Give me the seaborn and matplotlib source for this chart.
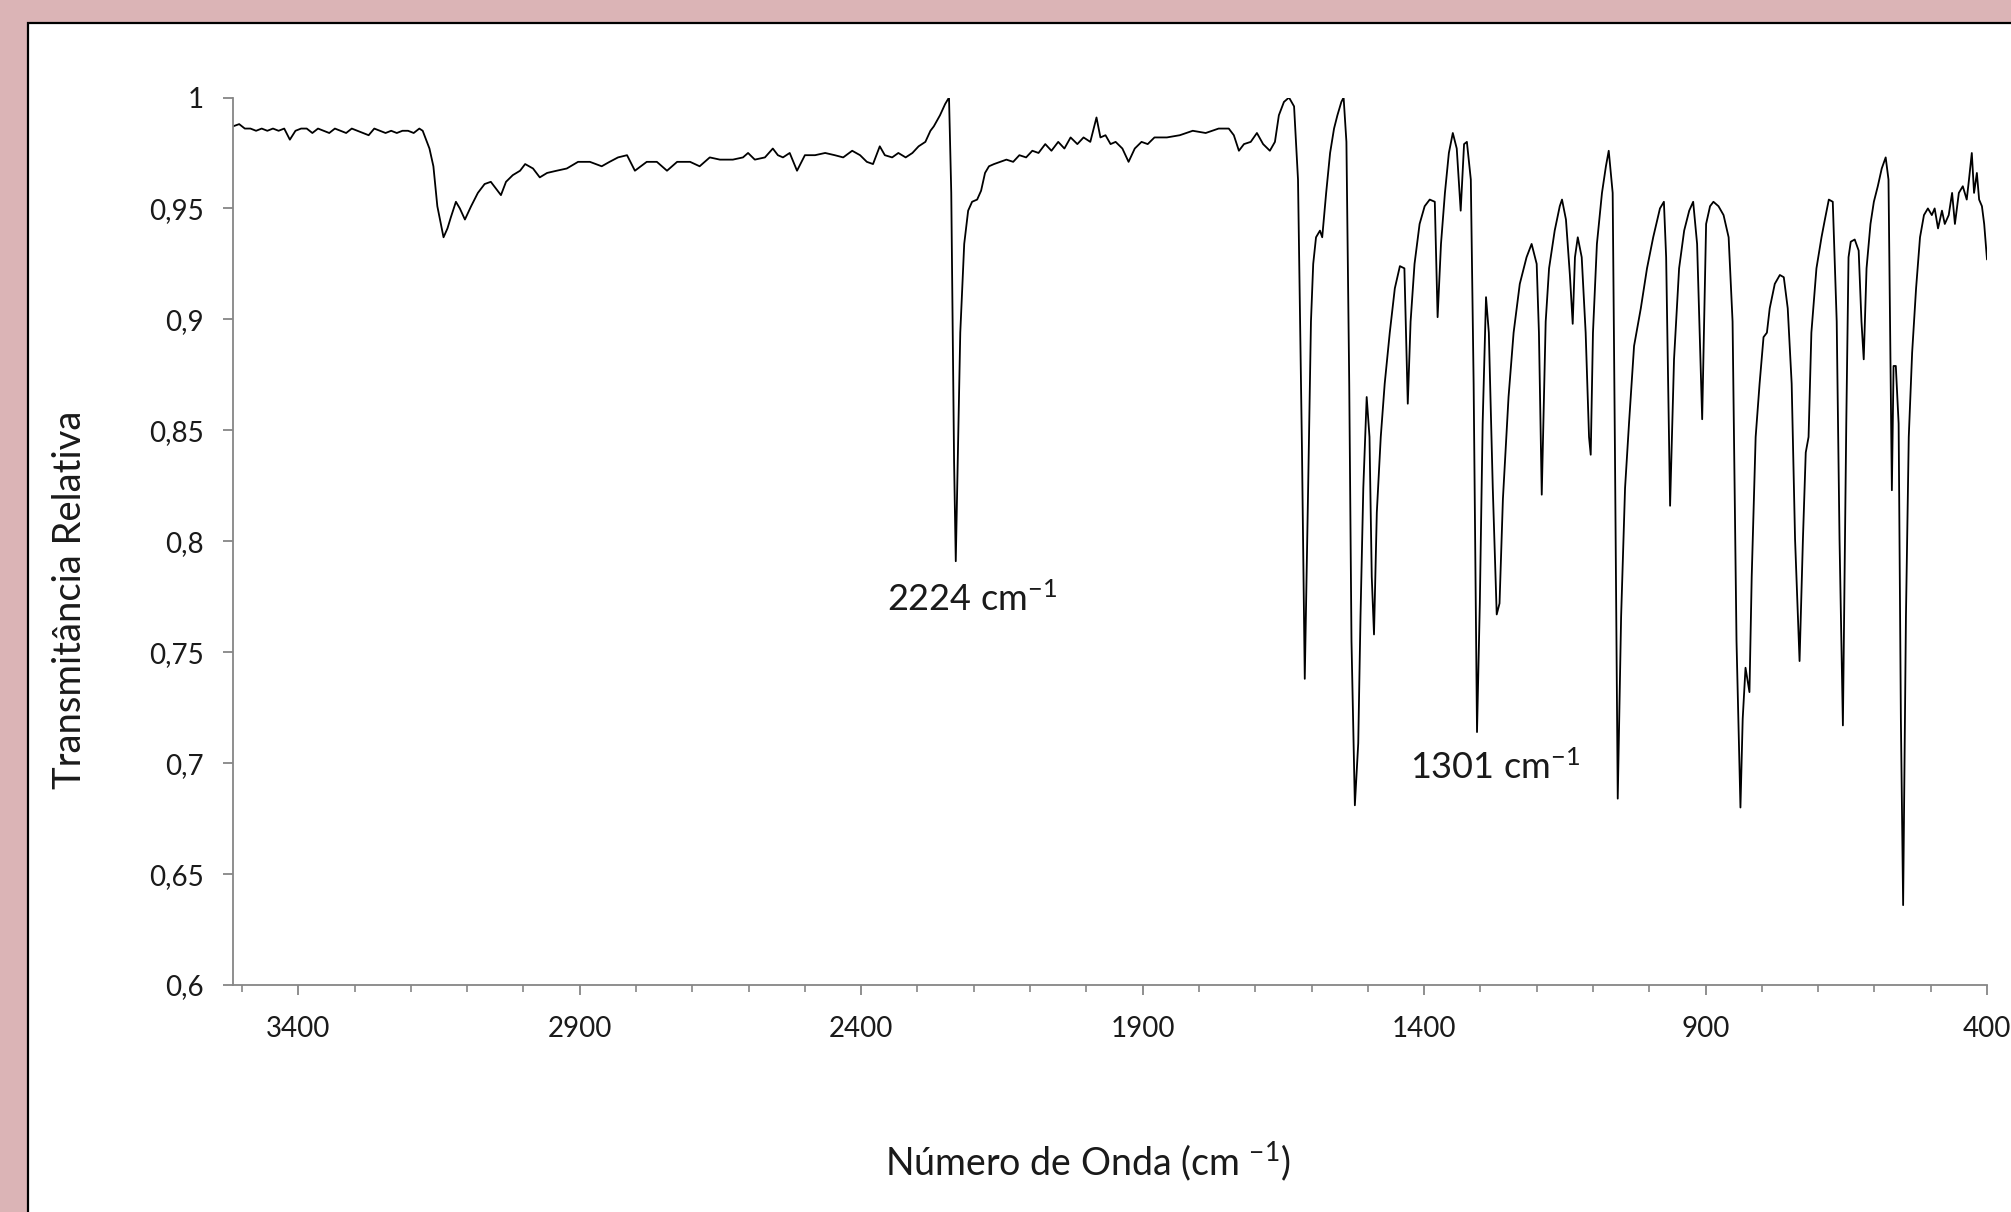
import numpy as np
import pandas as pd
import seaborn as sns
import matplotlib
matplotlib.use("Agg")
import matplotlib.pyplot as plt
from matplotlib.patches import Rectangle
from matplotlib.ticker import FixedLocator, MultipleLocator

# ---------------- data ----------------
wavenumber = [
    3516, 3505, 3495, 3485, 3475, 3465, 3455, 3445, 3435, 3425, 3415, 3405, 3395, 3385, 3375,
    3365, 3355, 3345, 3335, 3325, 3315, 3305, 3295, 3285, 3275, 3265, 3255, 3245, 3235, 3225,
    3215, 3205, 3195, 3185, 3179, 3167, 3160, 3153, 3142, 3135, 3129, 3120, 3113, 3104, 3093,
    3081, 3069, 3058, 3049, 3040, 3031, 3019,
    3006, 2997, 2983, 2971, 2958, 2941, 2923, 2903, 2882, 2861, 2847, 2832, 2816, 2802, 2781,
    2763, 2745, 2727, 2704, 2687, 2669, 2651, 2628, 2610, 2601, 2589, 2571, 2557, 2548, 2539,
    2527, 2514, 2500, 2482, 2464, 2447, 2432, 2416, 2402, 2390, 2379, 2367, 2358, 2345, 2334,
    2321, 2309, 2298, 2286, 2277,
    2271, 2260, 2251, 2244, 2240, 2235, 2232, 2229, 2224, 2221, 2217, 2210, 2203, 2194,
    2187, 2180, 2173, 2164, 2153, 2142, 2130, 2119, 2107, 2096, 2085, 2073, 2062, 2050, 2039,
    2028, 2016, 2005, 1993, 1982, 1975, 1966, 1957, 1948, 1936, 1925, 1914, 1902, 1891, 1879,
    1857, 1834, 1811, 1788, 1765, 1747, 1738, 1729, 1720, 1708, 1697, 1686, 1674, 1665, 1658,
    1649, 1640, 1631, 1624, 1617, 1612, 1606, 1601, 1597, 1592, 1585, 1581, 1574, 1567, 1560,
    1554, 1547, 1543, 1538, 1533, 1529, 1523, 1517, 1513, 1508, 1502, 1497, 1493, 1489, 1484,
    1477, 1470, 1461, 1452, 1443, 1435, 1429, 1424, 1417, 1408, 1399, 1390, 1381, 1376, 1370,
    1363, 1356, 1349, 1342, 1335, 1329, 1324, 1317, 1312, 1306, 1301, 1296, 1290, 1285, 1278,
    1271, 1266, 1260, 1250, 1241, 1230, 1218, 1209, 1200, 1196, 1191, 1184, 1178, 1168, 1159,
    1155, 1148, 1141, 1136, 1132, 1127, 1120, 1113, 1107, 1104, 1100, 1093, 1084, 1077, 1072,
    1065, 1061, 1056, 1050, 1043, 1036, 1027, 1015, 1004, 993, 981, 974, 970, 963, 956,
    947, 938, 929, 922, 915, 906, 899, 892, 886, 877, 868, 859, 852, 845, 838,
    834, 829, 822, 818, 811, 804, 797, 791, 786, 777, 768, 761, 754, 747, 741,
    733, 727, 722, 717, 712, 703, 694, 688, 681, 674, 667, 662, 656, 650, 646,
    642, 635, 628, 623, 619, 614, 607, 601, 594, 587, 580, 575, 571, 569, 566,
    562, 557, 553, 549, 544, 539, 533, 526, 519, 512, 505, 498, 493, 487, 480,
    475, 468, 462, 457, 450, 443, 436, 432, 427, 423, 418, 414, 409, 405, 400,
]
transmittance = [
    0.987, 0.988, 0.986, 0.986, 0.985, 0.986, 0.985, 0.986, 0.985, 0.986, 0.981, 0.985, 0.986, 0.986, 0.984,
    0.986, 0.985, 0.984, 0.986, 0.985, 0.984, 0.986, 0.985, 0.984, 0.983, 0.986, 0.985, 0.984, 0.985, 0.984,
    0.985, 0.985, 0.984, 0.986, 0.985, 0.977, 0.969, 0.951, 0.937, 0.941, 0.946, 0.953, 0.950, 0.945, 0.951,
    0.957, 0.961, 0.962, 0.959, 0.956, 0.962, 0.965,
    0.967, 0.970, 0.968, 0.964, 0.966, 0.967, 0.968, 0.971, 0.971, 0.969, 0.971, 0.973, 0.974, 0.967, 0.971,
    0.971, 0.967, 0.971, 0.971, 0.969, 0.973, 0.972, 0.972, 0.973, 0.975, 0.972, 0.973, 0.977, 0.974, 0.973,
    0.975, 0.967, 0.974, 0.974, 0.975, 0.974, 0.973, 0.976, 0.974, 0.971, 0.970, 0.978, 0.974, 0.973, 0.975,
    0.973, 0.975, 0.978, 0.980, 0.985,
    0.987, 0.992, 0.997, 1.000, 0.957, 0.836, 0.791, 0.830, 0.894, 0.911, 0.934, 0.949, 0.953, 0.954,
    0.958, 0.966, 0.969, 0.970, 0.971, 0.972, 0.971, 0.974, 0.973, 0.976, 0.975, 0.979, 0.976, 0.980, 0.977,
    0.982, 0.979, 0.982, 0.980, 0.991, 0.982, 0.983, 0.979, 0.980, 0.977, 0.971, 0.977, 0.980, 0.979, 0.982,
    0.982, 0.983, 0.985, 0.984, 0.986, 0.986, 0.983, 0.976, 0.979, 0.980, 0.984, 0.979, 0.976, 0.980, 0.992,
    0.998, 1.000, 0.996, 0.963, 0.842, 0.738, 0.824, 0.899, 0.925, 0.937, 0.940, 0.937, 0.957, 0.975, 0.986,
    0.992, 0.998, 1.000, 0.980, 0.871, 0.755, 0.681, 0.709, 0.766, 0.824, 0.865, 0.847, 0.784, 0.758, 0.813,
    0.847, 0.871, 0.894, 0.914, 0.924, 0.923, 0.862, 0.899, 0.925, 0.943, 0.951, 0.954, 0.953, 0.901, 0.934,
    0.957, 0.975, 0.984, 0.977, 0.949, 0.979, 0.980, 0.963, 0.871, 0.714, 0.772, 0.853, 0.910, 0.894, 0.824,
    0.767, 0.772, 0.819, 0.865, 0.894, 0.916, 0.928, 0.934, 0.925, 0.894, 0.821, 0.899, 0.923, 0.940, 0.951,
    0.954, 0.945, 0.920, 0.898, 0.928, 0.937, 0.928, 0.894, 0.847, 0.839, 0.894, 0.934, 0.957, 0.969, 0.976,
    0.957, 0.842, 0.684, 0.766, 0.824, 0.853, 0.888, 0.905, 0.923, 0.937, 0.950, 0.953, 0.928, 0.816, 0.882,
    0.923, 0.940, 0.949, 0.953, 0.934, 0.855, 0.943, 0.951, 0.953, 0.951, 0.947, 0.937, 0.899, 0.755, 0.680,
    0.720, 0.743, 0.732, 0.784, 0.847, 0.871, 0.892, 0.894, 0.905, 0.916, 0.920, 0.919, 0.905, 0.871, 0.801,
    0.746, 0.801, 0.840, 0.847, 0.894, 0.923, 0.937, 0.945, 0.954, 0.953, 0.899, 0.801, 0.717, 0.853, 0.928,
    0.935, 0.936, 0.931, 0.899, 0.882, 0.923, 0.943, 0.953, 0.960, 0.968, 0.973, 0.963, 0.871, 0.823, 0.879,
    0.879, 0.853, 0.720, 0.636, 0.766, 0.847, 0.885, 0.914, 0.937, 0.947, 0.950, 0.947, 0.950, 0.941, 0.949,
    0.943, 0.947, 0.957, 0.943, 0.957, 0.960, 0.954, 0.963, 0.975, 0.957, 0.966, 0.954, 0.951, 0.943, 0.927,
]
assert len(wavenumber) == len(transmittance)

annot_labels = ["2224 cm$^{\\mathsf{-}1}$", "1301 cm$^{\\mathsf{-}1}$"]
annot_x = [2203, 1275]
annot_y = [0.774, 0.698]

y_tick_values = [0.6, 0.65, 0.7, 0.75, 0.8, 0.85, 0.9, 0.95, 1.0]
y_tick_labels = ["0,6", "0,65", "0,7", "0,75", "0,8", "0,85", "0,9", "0,95", "1"]
x_tick_values = [3400, 2900, 2400, 1900, 1400, 900, 400]

x_label = "Número de Onda (cm $^{\\mathsf{-}1}$)"
y_label = "Transmitância Relativa"

df = pd.DataFrame({"wn": wavenumber, "T": transmittance})

# ---------------- style ----------------
sns.set_theme(style="white")
plt.rcParams["font.family"] = ["Lato", "DejaVu Sans"]
plt.rcParams["mathtext.fontset"] = "custom"
plt.rcParams["mathtext.rm"] = "Lato"
plt.rcParams["mathtext.sf"] = "Lato"
plt.rcParams["mathtext.it"] = "Lato:italic"
plt.rcParams["mathtext.bf"] = "Lato:bold"
plt.rcParams["mathtext.default"] = "rm"

W, H = 2011, 1212
fig = plt.figure(figsize=(W / 100, H / 100), dpi=100, facecolor="#dbb4b6")

# white chart box (left/top border visible)
box = Rectangle((28 / W, -0.05), 1.2, 1 - 23 / H + 0.05, transform=fig.transFigure,
                facecolor="white", edgecolor="black", linewidth=1.6, zorder=-10)
fig.patches.append(box)

ax = fig.add_axes([233 / W, 1 - 985 / H, (1987 - 233) / W, (985 - 97.5) / H])
ax.set_zorder(2)
ax.set_facecolor("none")

sns.lineplot(data=df, x="wn", y="T", ax=ax, color="black", linewidth=1.3,
             sort=False, estimator=None)

ax.set_xlim(3516, 400)
ax.set_ylim(0.6, 1.0)

ax.xaxis.set_major_locator(FixedLocator(x_tick_values))
ax.xaxis.set_minor_locator(MultipleLocator(100))
ax.yaxis.set_major_locator(FixedLocator(y_tick_values))
ax.set_yticklabels(y_tick_labels)
ax.set_xticklabels([str(v) for v in x_tick_values])

for s in ["top", "right"]:
    ax.spines[s].set_visible(False)
for s in ["left", "bottom"]:
    ax.spines[s].set_color("#868686")
    ax.spines[s].set_linewidth(1.3)

ax.tick_params(axis="y", which="major", direction="out", length=7, width=1.3,
               color="#868686", pad=14, labelsize=20, labelcolor="#1a1a1a", left=True)
ax.tick_params(axis="x", which="major", direction="out", length=7, width=1.3,
               color="#868686", pad=15, labelsize=20, labelcolor="#1a1a1a", bottom=True)
ax.tick_params(axis="x", which="minor", direction="out", length=5, width=1.2,
               color="#868686", bottom=True)

ax.set_xlabel("")
ax.set_ylabel("")
fig.text(70 / W, 1 - 600 / H, y_label, rotation=90, ha="center", va="center",
         fontsize=27.5, color="#1a1a1a")
fig.text(1088 / W, 1 - 1161 / H, x_label, ha="center", va="center",
         fontsize=27, color="#1a1a1a")

for lab, xx, yy in zip(annot_labels, annot_x, annot_y):
    ax.text(xx, yy, lab, ha="center", va="center", fontsize=26, color="#1a1a1a")

fig.savefig("out.png", dpi=100, facecolor=fig.get_facecolor())
